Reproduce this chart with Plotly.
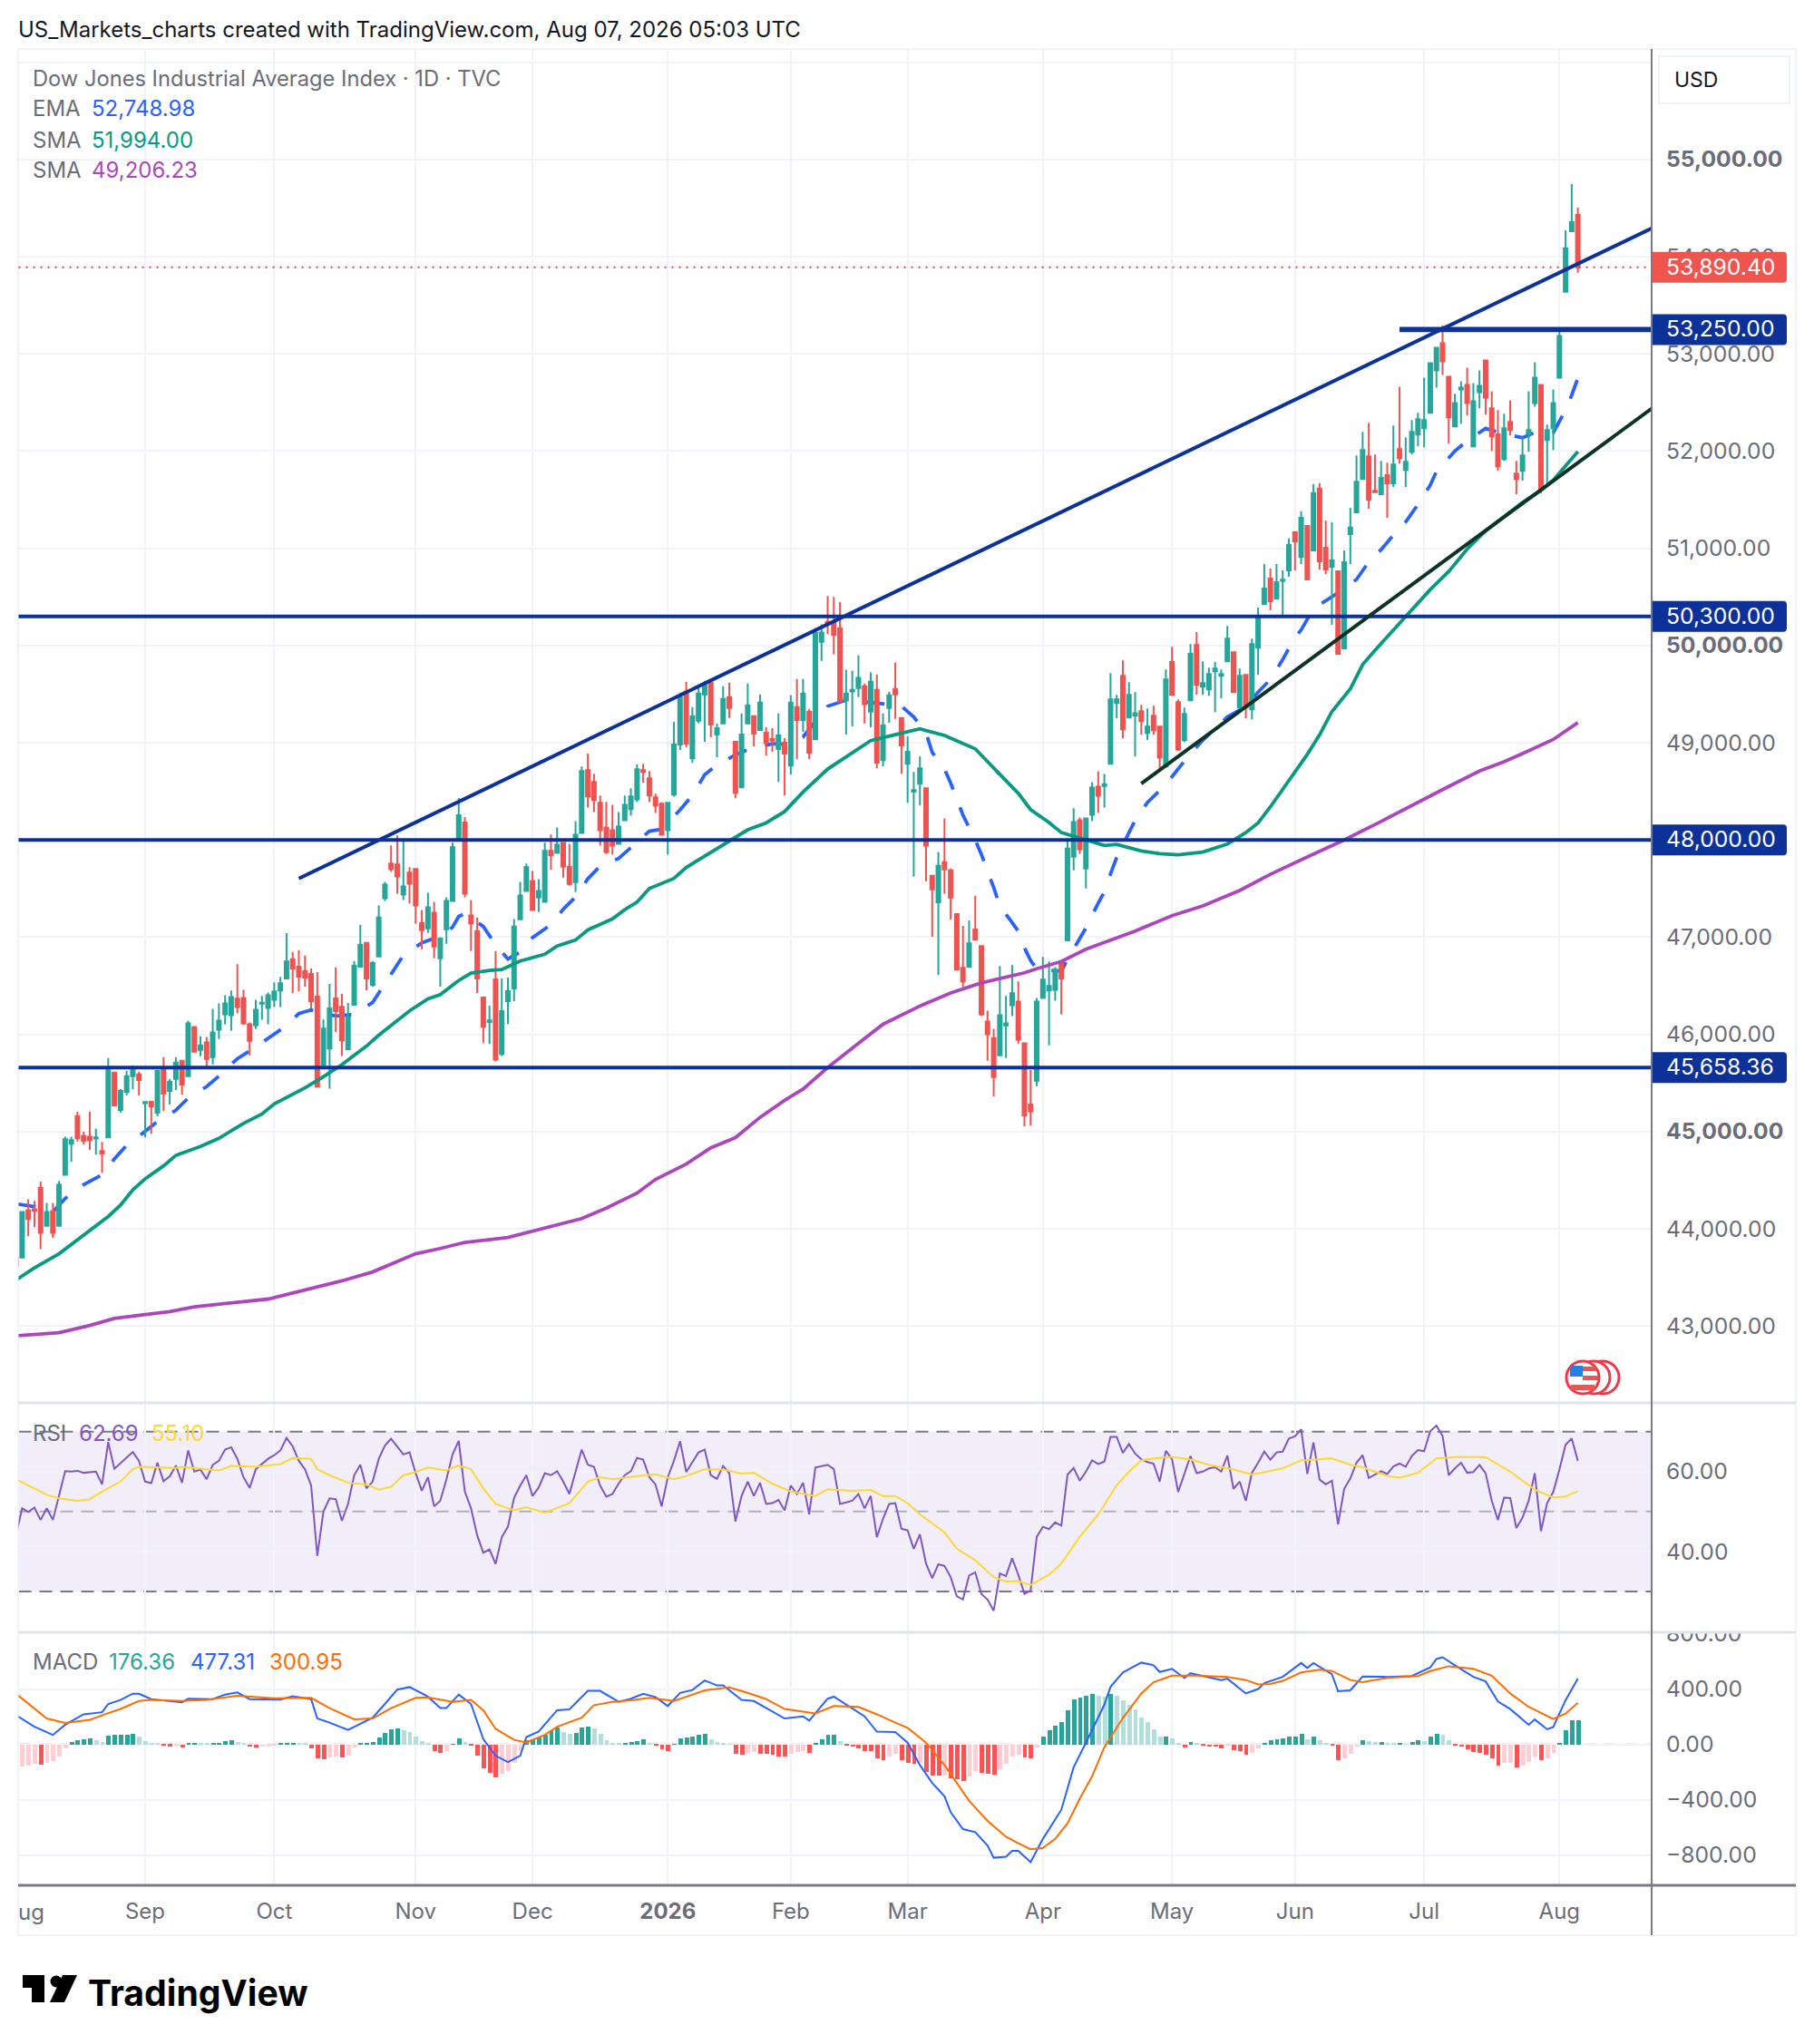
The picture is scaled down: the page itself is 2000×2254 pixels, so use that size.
import plotly.graph_objects as go

W, H = 2000, 2254
FONT = "Inter"

# ---------- data ----------
opens = [43700,
 43703,44188,44200,44422,44031,44181,44031,44556,44875,45156,
 44953,44947,44928,44800,44940,45606,45222,45409,45569,45587,
 45291,45306,45194,45653,45419,45541,45728,45569,46075,45841,
 45916,45766,46047,46206,46197,46366,46375,46103,46094,46316,
 46272,46356,46450,46575,46772,46697,46650,46622,46388,45684,
 45853,46369,46284,45844,46303,46697,46941,46509,46800,47400,
 47756,47747,47438,47663,47700,47147,47091,47250,46781,47081,
 47372,48009,48178,47222,47063,46378,46128,46566,45797,46341,
 46472,47184,47475,47578,47409,47363,47888,47866,47968,47725,
 47565,48072,48718,48597,48381,48128,48100,47959,48203,48316,
 48418,48718,48634,48437,48372,48100,48465,48981,49525,48840,
 49225,49497,49618,49084,49197,49468,49009,48540,49197,49272,
 49131,49103,49037,48934,49000,48765,49365,49234,49318,49035,
 50037,50242,50237,50175,49434,49528,49562,49581,49319,49544,
 48822,49356,49553,49253,48784,48497,48578,48531,47631,47359,
 47772,47688,47238,46684,46694,47078,46909,46131,45962,45784,
 46091,46300,46337,45908,45279,45522,46375,46450,46459,46741,
 46966,47828,48203,47706,48259,48548,48554,48782,49408,49688,
 49259,49280,49324,49100,49277,49165,48754,49829,49417,49025,
 49436,50006,49576,49548,49735,49688,49838,49931,49361,49698,
 49343,49978,50427,50688,50483,50666,50772,51165,50913,51230,
 50978,51613,51006,50810,50763,49969,51146,51369,51713,51946,
 51592,51555,51751,51667,52020,51806,51992,52169,52234,52392,
 52829,53108,52764,52253,52634,52680,52048,52606,52932,52439,
 52172,51918,52299,51769,51797,52178,52494,52680,52113,52234,
 52755,53638,54261,54429]
highs = [43780,
 44181,44303,44288,44484,44266,44266,44491,44947,44947,45203,
 44997,45203,45031,44893,45756,45606,45437,45625,45681,45616,
 45303,45306,45634,45766,45541,45766,45728,46141,46075,45981,
 45972,46262,46319,46403,46450,46722,46459,46122,46356,46394,
 46431,46534,46591,47041,46847,46866,46809,46678,46641,46153,
 46519,46688,46416,46322,46753,47128,46941,46753,47325,47569,
 47944,48047,48019,47719,47700,47278,47456,47363,46988,47409,
 47972,48431,48234,47381,47203,46378,46294,46856,46575,46584,
 47185,47569,47756,47681,47597,47972,48056,48128,47968,47959,
 48194,48756,48887,48681,48456,48391,48362,48287,48456,48531,
 48775,48784,48709,48475,48390,48381,49215,49515,49628,49365,
 49572,49637,49618,49197,49581,49618,49009,49300,49609,49272,
 49497,49159,49150,49300,49047,49487,49656,49656,49347,50180,
 50217,50508,50500,50446,49750,49741,49900,49609,49722,49703,
 49300,49525,49825,49253,49066,48700,48859,48531,47631,47875,
 48222,47706,47238,47116,47172,47425,46909,46244,46056,46703,
 46394,46712,46544,45908,45633,46375,46797,46750,46694,46741,
 48016,48325,48231,48222,48595,48707,48679,49716,49492,49847,
 49623,49520,49389,49352,49380,49165,49754,49987,49445,49361,
 50015,50137,49838,49772,49829,49754,50202,49931,49763,49698,
 50071,50389,50838,50791,50838,50772,51100,51165,51380,51230,
 51660,51670,51286,51268,50772,50978,51417,51955,52197,52290,
 51964,51899,51881,52262,52662,52141,52318,52392,52755,52913,
 53062,53294,52764,52588,52718,52857,52699,52829,52932,52615,
 52420,52383,52522,51899,52141,52615,52913,52680,52271,52634,
 53238,54271,54745,54503]
lows = [43500,
 43703,43922,44016,43791,44025,43906,44031,44556,44687,44897,
 44866,44812,44762,44575,44940,45269,45194,45372,45437,45372,
 44940,44978,45156,45212,45278,45428,45381,45569,45812,45775,
 45662,45691,45953,46103,46037,46216,46094,45784,46056,46150,
 46103,46281,46281,46566,46425,46444,46491,46266,45463,45684,
 45441,46022,45778,45844,46303,46688,46453,46491,46800,47372,
 47672,47447,47381,47344,47138,46875,47044,46781,46491,46931,
 47372,48009,47409,46856,46425,45909,45900,45722,45778,46106,
 46341,47184,47475,47269,47259,47363,47691,47866,47612,47528,
 47462,48072,48334,48287,47941,47856,47847,47959,48203,48250,
 48390,48587,48390,48278,48053,47847,48446,48925,48953,48793,
 49197,49009,49056,48850,49197,49253,48428,48540,49197,48962,
 49131,48868,48906,48597,48456,48672,48831,49112,48831,49035,
 49842,50117,49908,49417,49084,49169,49469,49197,49159,48737,
 48756,49206,49244,48681,48381,47622,48353,47575,47003,46609,
 47444,47181,46656,46487,46694,46975,46187,45728,45362,45784,
 45756,46187,45906,45054,45062,45466,46375,45887,46347,46206,
 46966,47687,47856,47500,48193,48277,48333,48782,49249,49044,
 49259,48857,49081,49025,49081,48707,48754,49492,48913,49006,
 49436,49492,49492,49483,49315,49455,49838,49511,49352,49249,
 49240,49698,50427,50361,50483,50314,50707,50772,50838,50679,
 50978,50782,50735,50212,49913,49969,50838,51369,51713,51406,
 51577,51555,51313,51630,51871,51630,51964,52048,52039,52392,
 52653,52783,52076,52253,52281,52364,52048,52439,52374,52002,
 51797,51899,52160,51555,51695,51992,52457,51565,51667,52011,
 52755,53638,54261,53834]
closes = [43620,
 44172,44100,44184,43959,44172,43959,44453,44922,44912,44931,
 44906,44912,44940,44775,45631,45269,45419,45569,45634,45531,
 45303,45259,45625,45391,45512,45709,45484,46112,45822,45887,
 45747,46019,46141,46319,46384,46281,46112,45934,46253,46325,
 46403,46441,46525,46750,46678,46594,46584,46341,45463,46059,
 46266,46238,45938,46181,46706,46922,46575,46734,47203,47541,
 47700,47625,47522,47550,47325,47072,47306,46903,46988,47372,
 47925,48253,47447,47138,46575,46078,46144,45741,46238,46444,
 47109,47428,47719,47278,47475,47888,47841,47950,47725,47546,
 48053,48709,48447,48409,48100,47875,47941,48137,48362,48447,
 48728,48700,48456,48353,48053,48381,48981,49468,48990,49272,
 49506,49590,49187,49150,49450,49356,48484,49084,49384,49093,
 49412,49000,49022,49075,48887,49412,49234,49506,48897,50130,
 50133,50225,50108,49425,49506,49544,49666,49397,49628,48794,
 49178,49487,49497,48972,48906,48512,48737,47941,47491,47734,
 47697,47406,46666,46544,46937,46975,46206,46000,45559,46197,
 46113,46422,45944,45166,45208,46337,46562,46497,46666,46572,
 47912,48184,47903,48222,48539,48455,48573,49445,49445,49137,
 49492,49302,49221,49165,49128,48847,49651,49492,48931,49296,
 49913,49595,49614,49707,49763,49707,50071,49520,49688,49361,
 50015,50286,50585,50455,50651,50676,51034,51071,51314,50679,
 51567,50866,50782,50875,49913,50857,51212,51685,52011,51499,
 51577,51723,51667,51862,51927,51890,52197,52327,52318,52904,
 53062,52922,52346,52494,52653,52494,52513,52671,52550,52150,
 51843,52234,52216,51713,51955,52216,52755,51602,52216,52494,
 53183,54085,54354,53890.40]
bar_index = list(range(len(opens)))

ema_idx = [0,3,6,8,11,14,16,18,20,23,26,28,31,33,36,38,41,44,46,48,52,55,58,60,62,63,66,68,69,71,72,73,76,78,80,82,84,87,89,91,93,95,98,100,103,105,108,110,112,114,117,119,123,125,128,132,135,140,144,146,148,149,151,152,154,156,157,159,160,162,163,164,165,166,170,171,173,174,176,177,178,179,181,182,184,187,189,191,193,195,197,200,202,204,206,208,209,211,214,218,220,222,224,226,228,230,231,234,236,239,242,245,247,250,252,253,254]
ema_val = [44256,44228,44172,44312,44453,44556,44718,44859,44950,45103,45219,45344,45462,45570,45750,45828,45959,46090,46213,46250,46188,46206,46328,46520,46716,46813,46941,46988,46988,47103,47213,47241,47109,46920,46775,46847,46994,47128,47287,47412,47600,47731,47809,47920,48090,48110,48309,48459,48670,48772,48875,48928,48990,48985,49060,49375,49437,49408,49375,49265,49100,48900,48730,48585,48255,48000,47850,47510,47320,47150,47060,46890,46760,46670,46650,46770,46990,47095,47350,47465,47650,47820,48075,48200,48385,48570,48730,48890,49025,49140,49265,49370,49520,49650,49855,50085,50160,50380,50500,50679,50860,50985,51137,51270,51450,51650,51790,52000,52105,52233,52175,52137,52192,52190,52420,52575,52748.98]

sma50_idx = [0,3,7,11,15,17,19,21,24,26,30,33,37,40,42,47,50,53,57,59,62,64,67,69,72,74,77,79,82,86,88,91,93,97,99,101,103,107,109,112,116,119,122,125,128,132,135,139,143,147,151,156,160,163,165,168,170,174,177,179,183,186,189,193,197,200,202,204,207,210,212,214,217,219,221,224,226,230,233,236,239,242,245,248,250,254]
sma50_val = [43472,43597,43743,43939,44126,44243,44401,44513,44647,44755,44846,44930,45084,45180,45284,45450,45563,45688,45879,45992,46146,46241,46366,46408,46554,46629,46658,46666,46754,46824,46908,46970,47074,47187,47282,47360,47500,47604,47716,47833,47987,48104,48175,48292,48492,48729,48854,49021,49083,49142,49075,48937,48675,48479,48312,48179,48075,48000,47942,47954,47887,47858,47846,47875,47958,48075,48175,48340,48614,48880,49081,49320,49554,49804,49950,50158,50296,50575,50762,50992,51179,51325,51471,51596,51700,51994]

sma200_idx = [0,4,7,12,16,21,25,29,36,41,45,49,53,58,62,65,69,73,80,86,92,96,101,104,109,113,117,121,125,128,132,137,141,147,152,157,164,166,170,174,182,188,193,199,204,210,216,222,228,233,238,242,245,250,254]
sma200_val = [42898,42918,42931,43006,43077,43118,43147,43197,43243,43277,43339,43401,43464,43556,43668,43743,43797,43860,43910,44005,44105,44213,44367,44508,44666,44833,44937,45146,45321,45437,45658,45908,46104,46291,46425,46529,46633,46675,46750,46875,47062,47221,47321,47479,47646,47825,48000,48190,48390,48550,48708,48804,48888,49033,49206.23]

rsi_values = [44.1,50.8,49.9,51.0,47.9,50.8,47.9,53.9,60.1,60.0,
 60.2,59.7,59.9,60.0,56.8,67.4,60.7,62.2,63.5,64.9,
 62.7,57.5,57.1,62.2,57.6,58.8,61.5,57.2,65.3,60.0,
 60.5,58.1,61.7,62.7,65.5,66.1,63.2,58.6,55.9,60.6,
 62.0,63.2,64.1,65.3,68.4,66.3,62.7,60.6,56.5,38.9,
 50.0,53.3,53.1,47.7,51.9,59.1,61.7,55.8,57.5,63.2,
 66.5,68.2,66.3,64.3,64.8,59.6,55.2,58.6,51.3,52.7,
 58.1,64.3,67.7,55.0,50.8,44.1,39.7,40.5,36.9,43.6,
 46.2,53.4,56.5,59.1,53.9,56.0,59.6,59.1,60.1,57.5,
 54.4,60.1,65.5,61.7,61.2,56.5,53.7,54.4,57.0,59.1,
 60.1,63.4,63.0,58.6,56.8,51.3,58.6,62.7,67.6,59.9,
 62.2,64.8,65.5,59.1,58.2,61.4,59.6,47.5,53.9,57.5,
 53.9,57.2,51.9,52.1,52.9,50.3,56.5,54.4,57.2,49.3,
 61.0,61.3,61.7,60.6,51.9,52.3,52.7,54.4,50.8,53.9,
 43.6,48.2,51.9,52.1,45.7,45.3,40.7,44.3,37.0,33.3,
 36.8,36.4,33.6,28.8,28.0,34.0,34.8,29.4,28.0,25.2,
 34.5,33.9,38.3,34.2,29.4,30.2,43.7,46.2,45.6,47.3,
 46.5,59.2,60.9,57.7,60.0,62.8,61.9,62.5,68.7,68.7,
 64.7,66.9,64.5,63.1,62.4,62.0,57.5,65.2,63.1,54.9,
 59.4,63.9,59.6,60.0,60.8,61.1,60.0,64.0,55.7,57.5,
 52.7,59.7,62.2,65.0,63.0,64.8,65.0,68.3,68.8,70.6,
 59.4,67.3,58.0,56.8,57.7,46.8,55.7,58.3,62.2,64.1,
 58.4,59.2,60.1,59.4,61.3,62.0,61.2,63.9,65.4,65.1,
 70.1,71.5,68.9,59.1,60.8,62.2,59.7,59.9,61.7,59.6,
 52.7,47.9,53.5,53.4,45.9,48.5,52.7,59.6,45.1,52.1,
 54.9,60.5,66.7,68.3,62.69]

rsi_ma_idx = [0,3,5,7,10,12,14,17,19,20,26,27,33,35,39,43,45,48,49,51,54,57,59,61,63,65,67,70,72,74,76,78,81,83,86,90,93,95,97,101,104,107,109,112,115,118,120,123,126,130,132,136,139,141,143,145,147,151,153,156,159,161,163,165,168,170,173,176,179,181,183,185,188,191,194,198,201,204,206,209,214,217,219,223,225,228,231,235,239,243,247,250,252,254]
rsi_ma_val = [58.1,55.8,54.2,53.3,52.7,53.1,55.0,57.5,60.6,61.2,60.9,61.2,60.3,61.4,61.2,61.9,63.4,63.2,60.6,59.1,57.2,56.8,55.5,56.2,59.1,59.9,61.0,60.3,61.5,60.6,55.8,51.9,50.3,51.1,49.7,52.1,57.5,58.6,58.1,58.9,59.3,58.1,58.9,60.6,60.5,59.5,59.7,57.0,55.0,53.9,55.6,55.2,55.4,53.9,53.9,52.1,49.3,44.8,40.7,37.8,33.6,32.5,32.6,31.6,34.2,37.0,43.7,49.3,56.6,60.0,62.8,63.3,63.7,63.0,61.7,60.5,59.3,60.2,60.8,62.8,63.3,61.7,61.1,58.9,58.5,59.7,63.3,63.7,63.6,60.0,55.5,53.5,53.8,55.10]

macd_hist = [-165,-160,-155,-140,-148,-135,-120,-90,-25,15,
 28,38,45,30,20,66,68,70,72,74,
 60,25,8,5,-8,-12,-10,-20,8,12,
 9,6,8,14,22,32,18,8,-18,-22,
 -16,-12,-8,6,12,14,10,6,-25,-100,
 -110,-95,-88,-95,-80,-20,6,9,18,50,
 85,110,118,105,90,60,22,8,-45,-60,
 -50,3,45,15,-5,-80,-170,-205,-235,-215,
 -190,-130,-50,30,40,50,70,100,120,90,
 75,85,125,126,115,80,30,10,5,8,
 15,25,35,10,-10,-35,-45,3,45,50,
 55,70,78,40,20,8,3,-70,-75,-60,
 -55,-65,-70,-75,-85,-90,-65,-55,-50,-60,
 10,35,70,72,25,-5,-15,-30,-45,-50,
 -100,-115,-85,-65,-115,-130,-140,-135,-200,-222,
 -225,-222,-245,-250,-262,-230,-190,-205,-213,-220,
 -180,-140,-85,-75,-95,-100,-20,55,100,135,
 160,250,325,337,350,365,355,345,362,355,
 320,288,255,197,160,110,55,60,45,5,
 -20,20,6,-8,-14,-16,-28,-10,-40,-50,
 -75,-60,-25,5,28,35,45,55,60,75,
 40,55,30,10,-10,-115,-100,-70,-15,30,
 25,15,20,12,8,10,3,20,28,22,
 60,75,72,28,-3,-15,-35,-55,-60,-75,
 -100,-150,-135,-130,-165,-155,-125,-85,-115,-100,
 -60,5,100,176,176.36]

macd_idx = [0,3,6,8,11,14,15,17,19,20,22,25,27,28,30,32,34,36,38,43,45,48,49,51,54,58,60,62,64,67,69,70,72,74,76,78,80,82,83,85,88,90,93,95,98,100,102,104,106,108,110,112,114,115,118,120,125,128,129,132,133,136,138,140,143,145,147,149,151,152,154,156,158,159,161,162,163,165,167,170,172,174,177,178,180,183,185,186,188,190,191,196,197,200,202,203,206,209,210,211,214,215,217,219,223,227,230,231,232,234,237,239,241,243,245,246,247,249,250,252,254]
macd_val = [212,128,69,143,218,233,293,322,367,367,328,317,305,331,331,328,361,376,328,325,349,328,188,158,105,194,293,397,415,346,263,263,361,293,39,-81,-128,-81,54,93,248,254,388,388,308,331,367,343,278,373,394,463,427,427,322,314,188,203,173,331,346,257,203,93,90,13,-149,-278,-375,-489,-612,-634,-731,-819,-812,-770,-770,-851,-683,-472,-165,13,288,417,521,592,573,524,547,482,515,466,476,369,401,443,489,589,553,589,508,385,392,492,489,495,557,618,631,573,489,456,311,256,184,142,181,110,126,320,477.31]

signal_idx = [0,3,5,8,12,15,17,20,22,27,31,36,42,48,51,55,58,61,65,67,71,74,76,78,81,83,86,88,92,94,97,100,103,107,109,112,116,119,122,125,130,133,137,140,143,145,148,151,153,155,158,161,163,165,167,169,171,173,175,177,180,183,185,188,192,197,200,202,204,206,209,212,214,217,219,223,228,230,233,237,240,243,246,250,252,254]
signal_val = [367,263,188,155,179,227,257,314,322,314,322,352,334,337,263,182,188,263,337,340,308,322,248,113,33,15,69,128,194,284,308,320,337,314,343,391,412,373,328,257,224,278,272,218,158,120,13,-149,-278,-408,-553,-667,-715,-757,-748,-683,-570,-392,-230,-19,191,369,450,498,498,489,466,434,437,460,521,540,531,466,450,482,495,531,566,547,498,369,272,184,223,300.95]

price_ticks = [43000,44000,45000,46000,47000,48000,49000,50000,51000,52000,53000,54000,55000,56000]
price_labels = ["43,000.00","44,000.00","<b>45,000.00</b>","46,000.00","47,000.00","48,000.00","49,000.00",
                "<b>50,000.00</b>","51,000.00","52,000.00","53,000.00","54,000.00","<b>55,000.00</b>",""]
rsi_ticks = [40, 60]
rsi_labels = ["40.00", "60.00"]
macd_ticks = [-800, -400, 0, 400, 800]
macd_labels = ["\u2212800.00", "\u2212400.00", "0.00", "400.00", "800.00"]
month_idx = [21, 42, 65, 84, 106, 126, 145, 167, 188, 208, 229, 251]
month_labels = ["Sep","Oct","Nov","Dec","<b>2026</b>","Feb","Mar","Apr","May","Jun","Jul","Aug"]

level_prices = [50300.00, 48000.00, 45658.36]
top_level = 53250.00
last_price = 53890.40
rising_line = ([46, 266], [47603, 54291])
support_line = ([183, 266], [48580, 52437])
top_level_start = 225

# ---------- colours ----------
UP, DOWN = "#26a69a", "#ef5350"
NAVY = "#0c3299"
GRID = "#f0f3fa"
AXIS = "#787b86"
TXT = "#6a6d78"
assert len(opens)==len(highs)==len(lows)==len(closes)==255, (len(opens),len(highs),len(lows),len(closes))
assert len(rsi_values)==255 and len(macd_hist)==255, (len(rsi_values),len(macd_hist))
assert len(ema_idx)==len(ema_val) and len(sma50_idx)==len(sma50_val) and len(sma200_idx)==len(sma200_val)
assert len(rsi_ma_idx)==len(rsi_ma_val) and len(macd_idx)==len(macd_val) and len(signal_idx)==len(signal_val)

def px(x): return x / W
def py(y): return 1 - y / H

hist_colors = []
for i, v in enumerate(macd_hist):
    prev = macd_hist[i - 1] if i else v
    if v >= 0:
        hist_colors.append("#26a69a" if v >= prev else "#b2dfdb")
    else:
        hist_colors.append("#ff5252" if v < prev else "#ffcdd2")

fig = go.Figure()
# EMA sits under the candles, the SMAs over them
fig.add_trace(go.Scatter(x=ema_idx, y=ema_val, mode="lines", xaxis="x", yaxis="y",
                         line=dict(color="#2962ff", width=3.8, dash="22px,21px")))
fig.add_trace(go.Candlestick(x=bar_index, open=opens, high=highs, low=lows, close=closes,
                             xaxis="x4", yaxis="y4", whiskerwidth=0,
                             increasing=dict(line=dict(color=UP, width=2), fillcolor=UP),
                             decreasing=dict(line=dict(color=DOWN, width=2), fillcolor=DOWN)))
fig.add_trace(go.Scatter(x=sma200_idx, y=sma200_val, mode="lines", xaxis="x5", yaxis="y5",
                         line=dict(color="#ab47bc", width=3.8)))
fig.add_trace(go.Scatter(x=sma50_idx, y=sma50_val, mode="lines", xaxis="x5", yaxis="y5",
                         line=dict(color="#089981", width=3.8)))
# RSI
fig.add_trace(go.Scatter(x=bar_index, y=rsi_values, mode="lines", xaxis="x2", yaxis="y2",
                         line=dict(color="#7e57c2", width=2)))
fig.add_trace(go.Scatter(x=rsi_ma_idx, y=rsi_ma_val, mode="lines", xaxis="x2", yaxis="y2",
                         line=dict(color="#fdd835", width=2)))
# MACD
fig.add_trace(go.Bar(x=bar_index, y=macd_hist, xaxis="x3", yaxis="y3", width=0.72,
                     marker=dict(color=hist_colors, line=dict(width=0))))
fig.add_trace(go.Scatter(x=macd_idx, y=macd_val, mode="lines", xaxis="x3", yaxis="y3",
                         line=dict(color="#2962ff", width=2)))
fig.add_trace(go.Scatter(x=signal_idx, y=signal_val, mode="lines", xaxis="x3", yaxis="y3",
                         line=dict(color="#ff6d00", width=2)))

XR = [0.425, 266]
YR_MAIN = [42209, 56136]
XDOM = [px(20.5), px(1821)]
TICK = 24.7

def xax(**kw):
    d = dict(domain=XDOM, range=XR, type="linear", showgrid=True, gridcolor=GRID, gridwidth=2,
             tickmode="array", tickvals=month_idx, ticktext=month_labels, zeroline=False,
             showticklabels=False, ticks="", showline=False, fixedrange=True, automargin=False)
    d.update(kw)
    return d

def yax(dom, rng, vals, text, anchor, **kw):
    d = dict(domain=[py(dom[1]), py(dom[0])], range=rng, tickmode="array", tickvals=vals, ticktext=text,
             side="right", anchor=anchor, showgrid=True, gridcolor=GRID, gridwidth=2, zeroline=False,
             showline=False, ticks="outside", ticklen=10, tickcolor="rgba(0,0,0,0)", automargin=False,
             tickfont=dict(family=FONT, size=TICK, color=TXT), fixedrange=True)
    d.update(kw)
    return d

hidden_x = dict(range=XR, type="linear", overlaying="x", visible=False, fixedrange=True, automargin=False,
                rangeslider=dict(visible=False), domain=XDOM)
hidden_y = dict(range=YR_MAIN, overlaying="y", visible=False, fixedrange=True, side="right", automargin=False,
                domain=[py(1547), py(54)])

shapes, ann = [], []

def rect(x0, y0, x1, y1, fill=None, line=None, lw=1, layer="above"):
    shapes.append(dict(type="rect", xref="paper", yref="paper", x0=px(x0), x1=px(x1), y0=py(y0), y1=py(y1),
                       fillcolor=fill or "rgba(0,0,0,0)", line=dict(color=line or "rgba(0,0,0,0)", width=lw), layer=layer))

def tag(x0, y0, x1, y1, fill, r=4):
    # flag-shaped price tag: square on the axis side, rounded on the right
    p = ("M {} {} L {} {} Q {} {} {} {} L {} {} Q {} {} {} {} L {} {} Z").format(
        px(x0), py(y0), px(x1 - r), py(y0), px(x1), py(y0), px(x1), py(y0 + r),
        px(x1), py(y1 - r), px(x1), py(y1), px(x1 - r), py(y1), px(x0), py(y1))
    shapes.append(dict(type="path", xref="paper", yref="paper", path=p, fillcolor=fill, line=dict(width=0), layer="above"))

def seg(x0, y0, x1, y1, color, lw, layer="above"):
    shapes.append(dict(type="line", xref="paper", yref="paper", x0=px(x0), x1=px(x1), y0=py(y0), y1=py(y1),
                       line=dict(color=color, width=lw), layer=layer))

def text(x, y, s, color=TXT, size=24, anchor="left", family=FONT):
    ann.append(dict(xref="paper", yref="paper", x=px(x), y=py(y), text=s, showarrow=False, xanchor=anchor,
                    yanchor="middle", font=dict(family=family, size=size, color=color), borderpad=0, borderwidth=0))

# RSI band + guide lines, MACD zero
shapes.append(dict(type="rect", xref="x2 domain", yref="y2", x0=0, x1=1, y0=30, y1=70,
                   fillcolor="rgba(126,87,194,0.10)", line=dict(width=0), layer="below"))
for lvl, col in [(70, AXIS), (50, "rgba(120,123,134,0.55)"), (30, AXIS)]:
    shapes.append(dict(type="line", xref="x2 domain", yref="y2", x0=0, x1=1, y0=lvl, y1=lvl,
                       line=dict(color=col, width=2, dash="14px,9px"), layer="below"))
shapes.append(dict(type="line", xref="x3 domain", yref="y3", x0=0, x1=1, y0=0, y1=0,
                   line=dict(color="rgba(120,123,134,0.45)", width=2, dash="14px,9px"), layer="below"))

# drawings on the price pane
shapes.append(dict(type="line", xref="x domain", yref="y", x0=0, x1=1, y0=last_price, y1=last_price,
                   line=dict(color="#f23645", width=2, dash="2px,6px"), layer="above"))
for lvl in level_prices:
    shapes.append(dict(type="line", xref="x domain", yref="y", x0=0, x1=1, y0=lvl, y1=lvl,
                       line=dict(color=NAVY, width=4), layer="above"))
shapes.append(dict(type="line", xref="x", yref="y", x0=top_level_start, x1=XR[1], y0=top_level, y1=top_level,
                   line=dict(color=NAVY, width=5.6), layer="above"))
shapes.append(dict(type="line", xref="x", yref="y", x0=rising_line[0][0], x1=rising_line[0][1],
                   y0=rising_line[1][0], y1=rising_line[1][1], line=dict(color=NAVY, width=4), layer="above"))
shapes.append(dict(type="line", xref="x", yref="y", x0=support_line[0][0], x1=support_line[0][1],
                   y0=support_line[1][0], y1=support_line[1][1], line=dict(color="#0d3328", width=4), layer="above"))

# frame
rect(20, 54, 1980, 2134, line=GRID, lw=2, layer="below")
seg(20, 1547, 1980, 1547, "#e0e3eb", 3)
rect(1823, 1775, 1978, 1799, fill="white")     # clips the top MACD label
seg(20, 1800, 1980, 1800, "#e0e3eb", 3)
seg(20, 2079, 1980, 2079, AXIS, 3)
seg(1821, 54, 1821, 2134, AXIS, 2)

# price tags
for lvl, col, label in [(last_price, "#f0544f", "53,890.40"), (top_level, NAVY, "53,250.00"),
                        (50300.0, NAVY, "50,300.00"), (48000.0, NAVY, "48,000.00"), (45658.36, NAVY, "45,658.36")]:
    yc = 819 - (lvl - 49000) * 0.1072
    tag(1822, yc - 17, 1970, yc + 17, col)
    text(1837, yc - 1, label, color="white", size=TICK)

# USD box
rect(1829, 62, 1973, 114, fill="white", line=GRID, lw=2)
text(1846, 88, "USD", color="#131722", size=23)

# headers
text(20, 32, "US_Markets_charts created with TradingView.com, Aug 07, 2026 05:03 UTC", color="#131722", size=24)
text(36, 86, "Dow Jones Industrial Average Index \u00b7 1D \u00b7 TVC", size=23.7)
for y, name, val, col in [(120, "EMA", "52,748.98", "#2962ff"), (154, "SMA", "51,994.00", "#089981"), (188, "SMA", "49,206.23", "#ab47bc")]:
    text(36, y, name)
    text(101, y, val, color=col)
text(36, 1580, "RSI"); text(87, 1580, "62.69", color="#7e57c2"); text(167, 1580, "55.10", color="#fdd835")
text(36, 1832, "MACD"); text(120, 1832, "176.36", color="#26a69a"); text(210, 1832, "477.31", color="#2962ff"); text(297, 1832, "300.95", color="#ff6d00")
text(20, 2108, "ug", size=24)

# logo
shapes.append(dict(type="path", xref="paper", yref="paper", fillcolor="#000000", line=dict(width=0), layer="above",
                   path="M {} {} L {} {} L {} {} L {} {} L {} {} L {} {} Z".format(
                       px(25),py(2178),px(49),py(2178),px(49),py(2208),px(35),py(2208),px(35),py(2192),px(25),py(2192))))
shapes.append(dict(type="path", xref="paper", yref="paper", fillcolor="#000000", line=dict(width=0), layer="above",
                   path="M {} {} L {} {} L {} {} L {} {} Z".format(
                       px(69),py(2178),px(85),py(2178),px(71),py(2208),px(55),py(2208))))
shapes.append(dict(type="circle", xref="paper", yref="paper", x0=px(55.5), x1=px(68.5), y0=py(2191.5), y1=py(2178.5),
                   fillcolor="#000000", line=dict(width=0), layer="above"))
text(97, 2197, "<b>TradingView</b>", color="#000000", size=39.2)

# currency badge
for cx in (1767, 1757):
    shapes.append(dict(type="circle", xref="paper", yref="paper", x0=px(cx-18), x1=px(cx+18), y0=py(1537), y1=py(1501),
                       fillcolor="white", line=dict(color="#f23645", width=3), layer="above"))
shapes.append(dict(type="circle", xref="paper", yref="paper", x0=px(1727), x1=px(1763), y0=py(1537), y1=py(1501),
                   fillcolor="white", line=dict(color="#f23645", width=3), layer="above"))
rect(1731, 1506, 1745, 1518, fill="#2a7de1")
rect(1745, 1507, 1760, 1512, fill="#f0544f")
rect(1745, 1517, 1762, 1522, fill="#f0544f")
rect(1732, 1527, 1758, 1533, fill="#f0544f")

fig.update_layout(
    width=W, height=H, margin=dict(l=0, r=0, t=0, b=0, pad=0, autoexpand=False), paper_bgcolor="white", plot_bgcolor="white",
    showlegend=False, boxgap=0.41, boxgroupgap=0, bargap=0, hovermode=False, dragmode=False,
    xaxis=xax(anchor="y"),
    xaxis2=xax(anchor="y2"),
    xaxis3=xax(anchor="y3", showticklabels=True, ticks="outside", ticklen=7, tickcolor="rgba(0,0,0,0)",
               tickfont=dict(family=FONT, size=24, color=TXT)),
    xaxis4=dict(hidden_x, anchor="y4"),
    xaxis5=dict(hidden_x, anchor="y5"),
    yaxis=yax((54, 1547), YR_MAIN, price_ticks, price_labels, "x"),
    yaxis2=yax((1548, 1800), [19.79, 76.97], rsi_ticks, rsi_labels, "x2"),
    yaxis3=yax((1801, 2079), [-1018.4, 804.6], macd_ticks, macd_labels, "x3"),
    yaxis4=dict(hidden_y, anchor="x4"),
    yaxis5=dict(hidden_y, anchor="x5"),
    shapes=shapes, annotations=ann,
)
fig.write_html("out.html", config=dict(displayModeBar=False),
               post_script="var g=document.getElementById('{plot_id}');document.body.style.margin='0';"
                           "g.style.position='absolute';g.style.left='0';g.style.top='0';")
